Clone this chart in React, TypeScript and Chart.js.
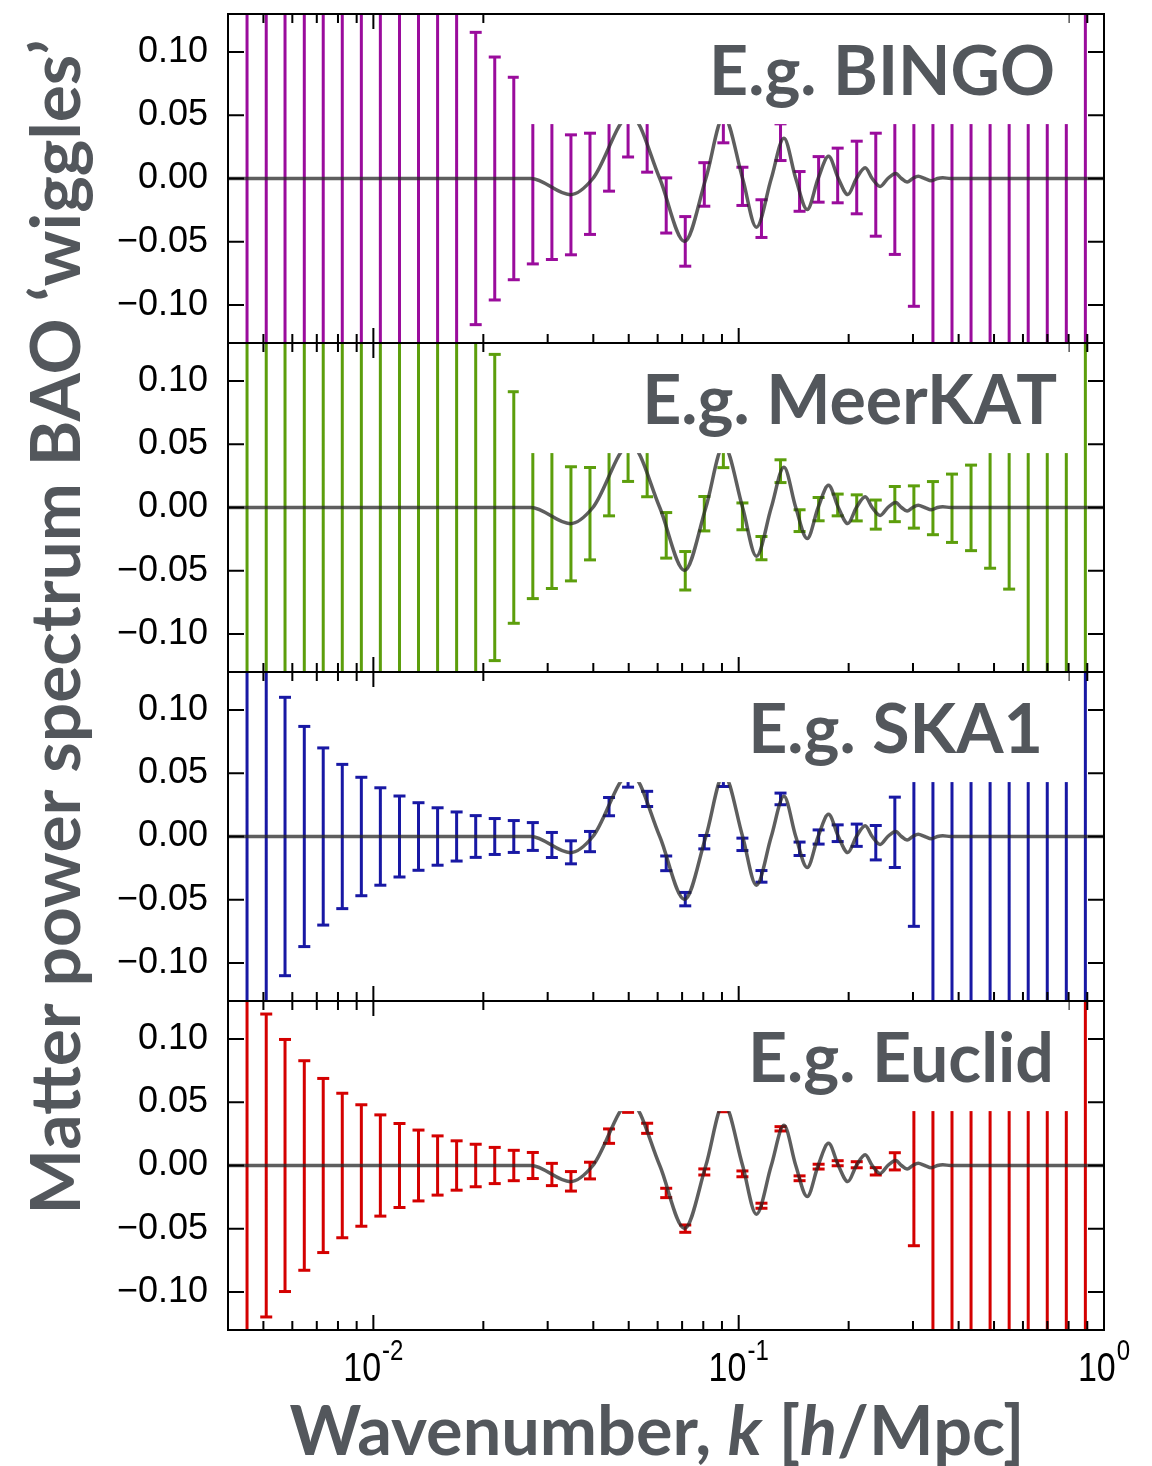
import React, { useEffect, useRef } from "react";
import { Chart, registerables } from "chart.js";

Chart.register(...registerables);

// ---------------- data ----------------
const kBins = [
  0.00451, 0.00509, 0.00573, 0.00647, 0.00729, 0.00822, 0.00927, 0.01045, 0.01179, 0.01329,
  0.01499, 0.0169, 0.01906, 0.02149, 0.02423, 0.02732, 0.03081, 0.03474, 0.03917, 0.04417,
  0.0498, 0.05616, 0.06333, 0.07141, 0.08052, 0.09079, 0.10238, 0.11544, 0.13017, 0.14678,
  0.16551, 0.18663, 0.21044, 0.23729, 0.26757, 0.30171, 0.34021, 0.38362, 0.43257, 0.48777,
  0.55001, 0.6202, 0.69933, 0.78856, 0.88918,
];

const curveK = [
  0.004, 0.027, 0.0346, 0.0399, 0.0505, 0.0608, 0.0711, 0.0813, 0.091, 0.1025, 0.1118, 0.1228,
  0.133, 0.1433, 0.154, 0.165, 0.1762, 0.1874, 0.199, 0.21, 0.222, 0.232, 0.244, 0.256, 0.269,
  0.279, 0.289, 0.2995, 0.31, 0.323, 0.337, 0.35, 0.362, 0.38, 1.0,
];
const curveV = [
  0, 0, -0.0128, 0, 0.05, 0, -0.0497, 0, 0.049, 0, -0.0385, 0,
  0.0318, 0, -0.0245, 0, 0.0175, 0, -0.0127, 0, 0.0085, 0, -0.0063, 0, 0.004,
  0, -0.0028, 0, 0.0018, 0, -0.0018, 0, 0.0006, 0, 0,
];

const bingoCenter = [
  0, 0, 0, 0, 0, 0, 0, 0, 0, 0, 0, 0,
  0, 0, 0, 0,
  -0.003, -0.0129, -0.0042, 0.02, 0.044, 0.03, -0.0213, -0.0497, -0.0047, 0.0435,
  -0.0062, -0.0317, 0.0287, -0.0102, -0.0007, 0.0024, 0.0008, -0.0049, -0.002, 0,
  0, 0, 0, 0, 0, 0, 0, 0, 0,
];
const bingoErr = [
  0.3, 0.3, 0.3, 0.3, 0.3, 0.3, 0.3, 0.3, 0.3, 0.3, 0.3, 0.3,
  0.1155, 0.096, 0.08, 0.0675,
  0.061, 0.0474, 0.04, 0.03, 0.027, 0.025, 0.0218, 0.0196, 0.0172, 0.0153,
  0.0151, 0.0149, 0.0145, 0.0157, 0.018, 0.0216, 0.0287, 0.0407, 0.058, 0.101,
  0.3, 0.3, 0.3, 0.3, 0.3, 0.3, 0.3, 0.3, 0.3,
];

const meerkatCenter = [
  0, 0, 0, 0, 0, 0, 0, 0, 0, 0, 0, 0, 0,
  0, 0, 0, -0.002, -0.0129, -0.0049, 0.02, 0.044, 0.03, -0.022,
  -0.05, -0.0049, 0.0445, -0.007, -0.0321, 0.0287, -0.0104, -0.0013, 0.002, -0.0003,
  -0.0056, 0.0027, 0.0004, -0.0005, -0.0006, -0.0003, 0, 0,
  0, 0, 0, 0,
];
const meerkatErr = [
  0.3, 0.3, 0.3, 0.3, 0.3, 0.3, 0.3, 0.3, 0.3, 0.3, 0.3, 0.3, 0.3,
  0.121, 0.0915, 0.072, 0.062, 0.0451, 0.0365, 0.0266, 0.0234, 0.0215, 0.018,
  0.0152, 0.0136, 0.013, 0.0106, 0.0092, 0.009, 0.0086, 0.0092, 0.0086, 0.0103,
  0.0115, 0.0139, 0.0167, 0.021, 0.027, 0.0338, 0.048, 0.0645,
  0.3, 0.3, 0.3, 0.3,
];

const ska1Center = [
  0, 0, 0, 0, 0, 0, 0, 0, 0, 0, 0, 0, 0, 0, 0, 0,
  -0.0067, -0.0125, -0.004, 0.0236, 0.0455, 0.0297, -0.0212, -0.0495, -0.0045, 0.0445,
  -0.0062, -0.0315, 0.0297, -0.0097, -0.0004, 0.0026, 0.001, -0.0049, 0.0033, 0,
  0, 0, 0, 0, 0, 0, 0, 0, 0,
];
const ska1Err = [
  0.3, 0.3, 0.11, 0.087, 0.07, 0.057, 0.0468, 0.0385, 0.032, 0.0267, 0.0227, 0.0194,
  0.0165, 0.0142, 0.0126, 0.011,
  0.0099, 0.0091, 0.008, 0.0072, 0.0065, 0.006, 0.0058, 0.0053, 0.0053, 0.005,
  0.0049, 0.0046, 0.0046, 0.0053, 0.0056, 0.0066, 0.0088, 0.0136, 0.0278, 0.071,
  0.3, 0.3, 0.3, 0.3, 0.3, 0.3, 0.3, 0.3, 0.3,
];

const euclidCenter = [
  0, 0, 0, 0, 0, 0, 0, 0, 0, 0, 0, 0, 0, 0, 0, 0,
  -0.0071, -0.0125, -0.004, 0.0232, 0.046, 0.0294, -0.0217, -0.0499, -0.0051, 0.045,
  -0.0066, -0.0318, 0.029, -0.0101, -0.0009, 0.0018, 0.0006, -0.0046, 0.0033, 0,
  0, 0, 0, 0, 0, 0, 0, 0, 0,
];
const euclidErr = [
  0.3, 0.1197, 0.0996, 0.0828, 0.0688, 0.0571, 0.048, 0.04, 0.0332, 0.028, 0.0234, 0.0195,
  0.0168, 0.0143, 0.012, 0.0103,
  0.0088, 0.0077, 0.0066, 0.0057, 0.004, 0.004, 0.0037, 0.0029, 0.0024, 0.0025,
  0.0023, 0.002, 0.0017, 0.0019, 0.0019, 0.002, 0.0024, 0.0029, 0.0068, 0.0634,
  0.3, 0.3, 0.3, 0.3, 0.3, 0.3, 0.3, 0.3, 0.3,
];

const panelNames = ["E.g. BINGO", "E.g. MeerKAT", "E.g. SKA1", "E.g. Euclid"];
const panelColors = ["#9a0c9c", "#5c9e0c", "#1818a4", "#d40000"];
const panelCenters = [bingoCenter, meerkatCenter, ska1Center, euclidCenter];
const panelErrors = [bingoErr, meerkatErr, ska1Err, euclidErr];

const yTickValues = [-0.1, -0.05, 0, 0.05, 0.1];
const xMajorTicks = [0.01, 0.1, 1];
const xMajorExponents = ["-2", "-1", "0"];
const xMinorTicks = [
  0.005, 0.006, 0.007, 0.008, 0.009,
  0.02, 0.03, 0.04, 0.05, 0.06, 0.07, 0.08, 0.09,
  0.2, 0.3, 0.4, 0.5, 0.6, 0.7, 0.8, 0.9,
];

const yTitle = "Matter power spectrum BAO \u2018wiggles\u2019";
const xTitleParts = [
  { t: "Wavenumber, ", it: false },
  { t: "k", it: true },
  { t: " [", it: false },
  { t: "h", it: true },
  { t: "/Mpc]", it: false },
];

// ---------------- layout / style ----------------
const W = 1152;
const H = 1466;
const PLOT_LEFT = 228;
const PLOT_RIGHT = 1104;
const PANEL_TOP0 = 14;
const PANEL_H = 329;
const X_MIN = 0.004;
const X_MAX = 1;
const Y_MIN = -0.13;
const Y_MAX = 0.13;
const BOX_K_LEFT = 0.025;
const BOX_K_RIGHT = 0.8;
const BOX_Y_BOTTOM = 0.043;
const LABEL_BASE_OFF = 81;
const LABEL_RIGHT = [1055, 1057, 1043, 1054];
const LABEL_TARGET_W = [358, 414, 288, 303];
const TITLE_FONT = "Lato";
const TICK_FONT = "'Liberation Sans', Arial, sans-serif";
const TEXT_GRAY = "#53575c";
const CURVE_COLOR = "rgba(40,40,40,0.75)";

function fmtTick(v: number) {
  if (Math.abs(v) < 1e-9) return "0.00";
  const s = Math.abs(v).toFixed(2);
  return v < 0 ? "\u2212" + s : s;
}

export default function App() {
  const r0 = useRef<HTMLCanvasElement>(null);
  const r1 = useRef<HTMLCanvasElement>(null);
  const r2 = useRef<HTMLCanvasElement>(null);
  const r3 = useRef<HTMLCanvasElement>(null);
  const refs = [r0, r1, r2, r3];

  useEffect(() => {
    document.body.style.margin = "0";
    let cancelled = false;
    const charts: Chart[] = [];
    const fonts: any = (document as any).fonts;
    const ready = fonts
      ? Promise.all([
          fonts.load(`bold 72px ${TITLE_FONT}`),
          fonts.load(`italic bold 72px ${TITLE_FONT}`),
          fonts.load(`35px 'Liberation Sans'`),
        ]).catch(() => null)
      : Promise.resolve(null);

    ready.then(() => {
      if (cancelled) return;
      const mctx = document.createElement("canvas").getContext("2d")!;
      let sum = 0;
      panelNames.forEach((n, i) => {
        mctx.font = `bold 100px ${TITLE_FONT}`;
        sum += (100 * LABEL_TARGET_W[i]) / mctx.measureText(n).width;
      });
      const labelSize = sum / panelNames.length;

      refs.forEach((ref, p) => {
        const canvas = ref.current;
        if (!canvas) return;
        const top = PANEL_TOP0 + p * PANEL_H;
        const bottom = top + PANEL_H;
        const color = panelColors[p];
        const cen = panelCenters[p];
        const err = panelErrors[p];

        const stems: any[] = [];
        const caps: any[] = [];
        kBins.forEach((k, i) => {
          stems.push({ x: k, y: cen[i] - err[i] });
          stems.push({ x: k, y: cen[i] + err[i] });
          stems.push({ x: k, y: null });
          caps.push({ x: k, y: cen[i] + err[i] });
          caps.push({ x: k, y: cen[i] - err[i] });
        });
        const curve = curveK.map((k, i) => ({ x: k, y: curveV[i] }));

        const deco = {
          id: "deco" + p,
          afterDatasetsDraw(chart: any) {
            const { ctx, chartArea: a } = chart;
            const xs = chart.scales.x;
            const ys = chart.scales.y;
            ctx.save();
            ctx.strokeStyle = "#000";
            ctx.lineWidth = 2;
            ctx.beginPath();
            xMinorTicks.forEach((k) => {
              const px = xs.getPixelForValue(k);
              ctx.moveTo(px, a.top);
              ctx.lineTo(px, a.top + 9);
              ctx.moveTo(px, a.bottom);
              ctx.lineTo(px, a.bottom - 9);
            });
            xMajorTicks.forEach((k) => {
              const px = xs.getPixelForValue(k);
              ctx.moveTo(px, a.top);
              ctx.lineTo(px, a.top + 15);
              ctx.moveTo(px, a.bottom);
              ctx.lineTo(px, a.bottom - 15);
            });
            yTickValues.forEach((v) => {
              const py = ys.getPixelForValue(v);
              ctx.moveTo(a.left, py);
              ctx.lineTo(a.left + 16, py);
              ctx.moveTo(a.right, py);
              ctx.lineTo(a.right - 16, py);
            });
            ctx.stroke();
            ctx.strokeRect(a.left, a.top, a.right - a.left, a.bottom - a.top);
            // legend box
            const bx0 = xs.getPixelForValue(BOX_K_LEFT);
            const bx1 = xs.getPixelForValue(BOX_K_RIGHT);
            const by = ys.getPixelForValue(BOX_Y_BOTTOM);
            ctx.fillStyle = "#fff";
            ctx.fillRect(bx0, a.top + 1, bx1 - bx0, by - (a.top + 1));
            ctx.fillStyle = TEXT_GRAY;
            ctx.font = `bold ${labelSize.toFixed(1)}px ${TITLE_FONT}`;
            ctx.textAlign = "right";
            ctx.textBaseline = "alphabetic";
            ctx.fillText(panelNames[p], LABEL_RIGHT[p], a.top + LABEL_BASE_OFF);
            ctx.restore();
          },
          afterDraw(chart: any) {
            if (p !== 3) return;
            const { ctx } = chart;
            const xs = chart.scales.x;
            ctx.save();
            // x tick labels (slightly tall, condensed look as in the reference)
            ctx.fillStyle = "#000";
            ctx.textBaseline = "alphabetic";
            ctx.textAlign = "left";
            const VS = 1.22;
            xMajorTicks.forEach((k, i) => {
              const px = xs.getPixelForValue(k);
              ctx.font = `34px ${TICK_FONT}`;
              const w1 = ctx.measureText("10").width;
              ctx.font = `24px ${TICK_FONT}`;
              const w2 = ctx.measureText(xMajorExponents[i]).width;
              const x0 = px - (w1 + w2 + 1) / 2;
              ctx.save();
              ctx.translate(x0, 1381);
              ctx.scale(1, VS);
              ctx.font = `34px ${TICK_FONT}`;
              ctx.fillText("10", 0, 0);
              ctx.restore();
              ctx.save();
              ctx.translate(x0 + w1 + 1, 1360);
              ctx.scale(1, VS);
              ctx.font = `24px ${TICK_FONT}`;
              ctx.fillText(xMajorExponents[i], 0, 0);
              ctx.restore();
            });
            // x title
            ctx.fillStyle = TEXT_GRAY;
            const fnt = (it: boolean, s: number) => `${it ? "italic " : ""}bold ${s}px ${TITLE_FONT}`;
            let tw = 0;
            xTitleParts.forEach((pt) => {
              ctx.font = fnt(pt.it, 100);
              tw += ctx.measureText(pt.t).width;
            });
            const xs2 = (100 * 735) / tw;
            let cx = 657 - 735 / 2;
            xTitleParts.forEach((pt) => {
              ctx.font = fnt(pt.it, xs2);
              ctx.fillText(pt.t, cx, 1455);
              cx += ctx.measureText(pt.t).width;
            });
            // y title
            ctx.font = fnt(false, 100);
            const yw = ctx.measureText(yTitle).width;
            const ys2 = (100 * 1175) / yw;
            ctx.font = fnt(false, ys2);
            ctx.translate(80, 627);
            ctx.rotate(-Math.PI / 2);
            ctx.textAlign = "center";
            ctx.fillText(yTitle, 0, 0);
            ctx.restore();
          },
        };

        const chart = new Chart(canvas, {
          type: "line",
          data: {
            datasets: [
              {
                data: curve,
                borderColor: CURVE_COLOR,
                borderWidth: 3.5,
                pointRadius: 0,
                cubicInterpolationMode: "monotone",
                fill: false,
                clip: 0,
                order: 0,
              } as any,
              {
                data: caps,
                showLine: false,
                pointStyle: "line",
                pointRadius: 6,
                pointBorderWidth: 3,
                pointBorderColor: color,
                borderColor: color,
                clip: 0,
                order: 1,
              } as any,
              {
                data: stems,
                borderColor: color,
                borderWidth: 3,
                pointRadius: 0,
                spanGaps: false,
                tension: 0,
                fill: false,
                clip: 0,
                order: 2,
              } as any,
            ],
          },
          options: {
            responsive: false,
            animation: false,
            devicePixelRatio: 1,
            events: [],
            layout: {
              padding: { left: 0, right: W - PLOT_RIGHT, top: top, bottom: H - bottom },
            },
            plugins: { legend: { display: false }, tooltip: { enabled: false } },
            scales: {
              x: { type: "logarithmic", min: X_MIN, max: X_MAX, display: false },
              y: {
                type: "linear",
                min: Y_MIN,
                max: Y_MAX,
                grid: { display: false },
                border: { display: false },
                afterFit: (s: any) => {
                  s.width = PLOT_LEFT;
                  s.paddingTop = 0;
                  s.paddingBottom = 0;
                },
                afterBuildTicks: (s: any) => {
                  s.ticks = yTickValues.map((v) => ({ value: v }));
                },
                ticks: {
                  padding: 12,
                  color: "#000",
                  autoSkip: false,
                  font: { family: TICK_FONT, size: 36 },
                  callback: (v: any) => fmtTick(Number(v)),
                },
              } as any,
            },
          } as any,
          plugins: [deco as any],
        });
        charts.push(chart);
      });
    });

    return () => {
      cancelled = true;
      charts.forEach((c) => c.destroy());
    };
  }, []);

  return (
    <div style={{ position: "absolute", left: 0, top: 0, width: W, height: H, background: "#fff" }}>
      {refs.map((r, i) => (
        <canvas
          key={i}
          ref={r}
          width={W}
          height={H}
          style={{ position: "absolute", left: 0, top: 0, width: W, height: H }}
        />
      ))}
    </div>
  );
}
